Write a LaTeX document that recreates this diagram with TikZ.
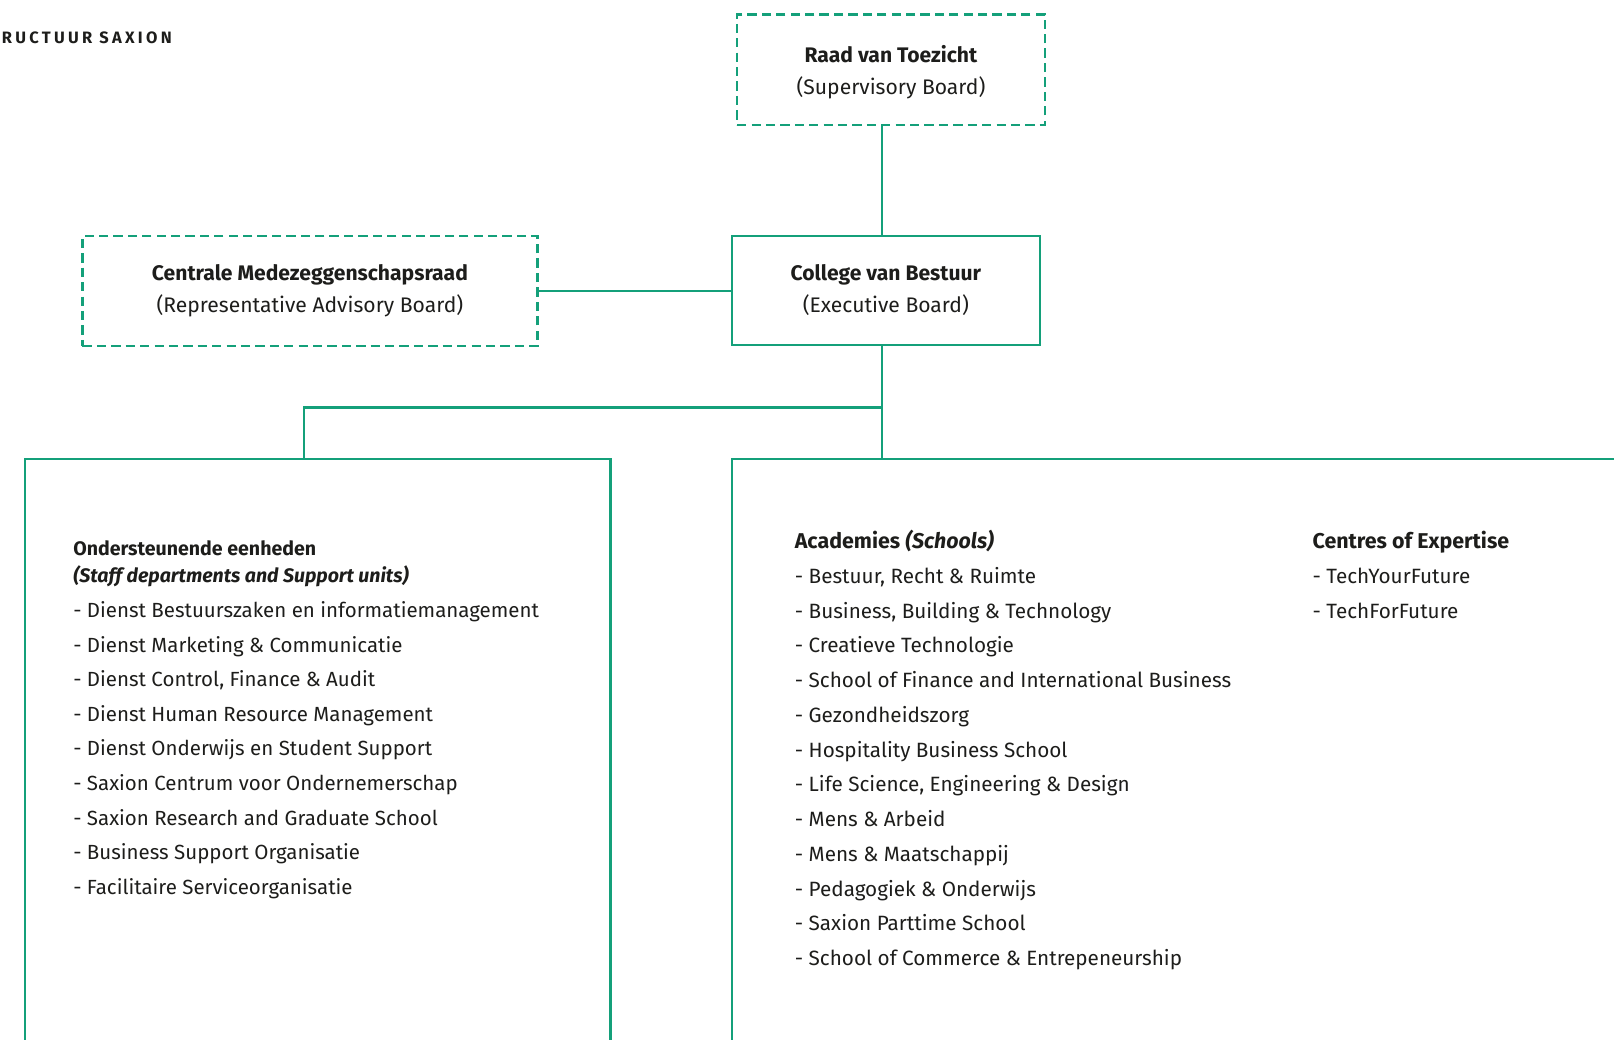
\documentclass[tikz,border=0pt]{standalone}
\usepackage{fontspec}
\setmainfont{Fira Sans}
\definecolor{sgreen}{HTML}{14A07A}
\definecolor{ink}{HTML}{1D1D1B}
\begin{document}
\begin{tikzpicture}[x=1pt,y=-1pt,
  box/.style={draw=sgreen, line width=2.2pt, inner sep=0pt, anchor=north west, align=center, text=ink,
    font=\fontsize{20.5}{31}\selectfont},
  dbox/.style={box, dash pattern=on 9pt off 5pt},
  conn/.style={draw=sgreen, line width=2.2pt},
  item/.style={anchor=base west, inner sep=0pt, text=ink, font=\fontsize{20.1}{23}\selectfont},
  litem/.style={item, font=\fontsize{19.9}{23}\selectfont},
  head/.style={item, font=\bfseries\fontsize{20.8}{23}\selectfont}]
\useasboundingbox (0,0) rectangle (1568,1009.4);

\node[anchor=base east, inner sep=0pt, text=ink, font=\bfseries\fontsize{16}{18}\selectfont\addfontfeatures{LetterSpace=20}] (title) at (167,42) {STRUCTUUR SAXION};

\node[dbox, minimum width=299pt, minimum height=107pt, text depth=0pt] (rvt) at (715,13)
  {\textbf{Raad van Toezicht}\\(Supervisory Board)};
\node[box, minimum width=299pt, minimum height=106pt] (cvb) at (710,228)
  {\textbf{College van Bestuur}\\(Executive Board)};
\node[dbox, minimum width=442pt, minimum height=107pt] (cmr) at (79,228)
  {\textbf{Centrale Medezeggenschapsraad}\\(Representative Advisory Board)};

\node[box, minimum width=569pt, minimum height=700pt] (lb) at (23,445) {};
\node[box, minimum width=1000pt, minimum height=700pt] (rb) at (710,445) {};

\coordinate (vx) at (857,0);
\coordinate (j) at (857,396);
\coordinate (lx) at (295,396);

\draw[conn] (rvt.south -| vx) -- (cvb.north -| vx);
\draw[conn] (cmr.east) -- (cmr.east -| cvb.west);
\draw[conn] (cvb.south -| vx) -- (rb.north -| vx);
\draw[conn] (j) -- (lx) -- (lx |- lb.north);

% left block
\node[head, font=\bfseries\fontsize{19}{23}\selectfont] (oh1) at (71,540) {Ondersteunende eenheden};
\node[head, font=\bfseries\itshape\fontsize{19}{23}\selectfont] (oh2) at (71,566) {(Staff departments and Support units)};
\foreach \t [count=\i] in {Dienst Bestuurszaken en informatiemanagement, Dienst Marketing \& Communicatie, {Dienst Control, Finance \& Audit}, Dienst Human Resource Management, Dienst Onderwijs en Student Support, Saxion Centrum voor Ondernemerschap, Saxion Research and Graduate School, Business Support Organisatie, Facilitaire Serviceorganisatie}
  \node[litem] (ol\i) at (71,{566.4+33.6*\i}) {- \t};

% right block
\node[head] (ah) at (772,533) {Academies \textit{(Schools)}};
\foreach \t [count=\i] in {{Bestuur, Recht \& Ruimte}, {Business, Building \& Technology}, Creatieve Technologie, School of Finance and International Business, Gezondheidszorg, Hospitality Business School, {Life Science, Engineering \& Design}, Mens \& Arbeid, Mens \& Maatschappij, Pedagogiek \& Onderwijs, Saxion Parttime School, School of Commerce \& Entrepeneurship}
  \node[item] (al\i) at (772,{533+33.75*\i}) {- \t};

\node[head] (ch) at (1275,533) {Centres of Expertise};
\node[item] (cl1) at (1275,566.75) {- TechYourFuture};
\node[item] (cl2) at (1275,600.5) {- TechForFuture};
\end{tikzpicture}
\end{document}
